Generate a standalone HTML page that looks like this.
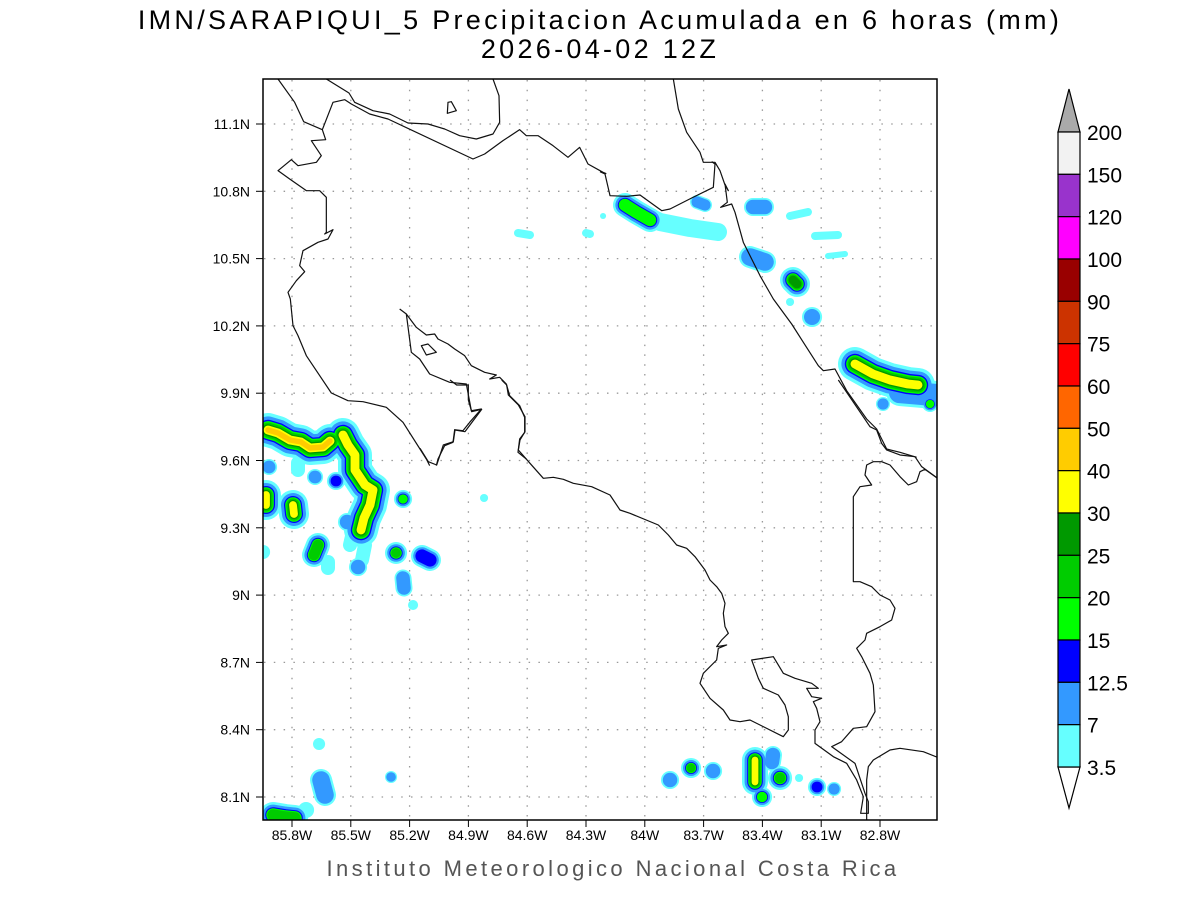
<!DOCTYPE html>
<html><head><meta charset="utf-8"><style>
body{margin:0;background:#fff;width:1200px;height:900px;overflow:hidden}
svg{display:block}
text{font-family:"Liberation Sans",sans-serif}
</style></head><body>
<svg id="s" width="1200" height="900" xmlns="http://www.w3.org/2000/svg">
<text x="600" y="29" font-size="27" text-anchor="middle" letter-spacing="3.3">IMN/SARAPIQUI_5 Precipitacion Acumulada en 6 horas (mm)</text>
<text x="600" y="58" font-size="27" text-anchor="middle" letter-spacing="3.3">2026-04-02 12Z</text>
<text x="613" y="876" font-size="22" text-anchor="middle" fill="#555" letter-spacing="3.4">Instituto Meteorologico Nacional Costa Rica</text>
<defs><clipPath id="c"><rect x="263" y="79" width="674" height="741"/></clipPath></defs>
<g id="grid" stroke="#999" stroke-width="1.3" stroke-dasharray="1.5,8.3"></g>
<g id="blobs" clip-path="url(#c)"></g>
<g clip-path="url(#c)" fill="none" stroke="#111" stroke-width="1.2" stroke-linejoin="round">
<g transform="translate(263,79) scale(0.33333)">
<polyline vector-effect="non-scaling-stroke" points="45,0 95,70 122,128 178,152 188,182 145,185 175,230 160,250 105,260 85,242 45,275 80,300 130,335 170,335 190,355 190,460 185,465 210,452 195,480 165,490 120,515 110,560 125,578 100,605 75,640 82,660 90,740 105,770 130,830 205,942 255,965 300,968 370,985 420,1030 490,1140 500,1160"/>
<polyline vector-effect="non-scaling-stroke" points="190,0 258,42 275,70 330,95 380,105 435,132 495,135 545,150 590,170 640,180 690,165 710,130 708,50 690,0"/>
<polyline vector-effect="non-scaling-stroke" points="178,152 210,70 245,62 265,75 320,105 375,120 630,240 665,225 720,185 770,152 790,170 825,170 870,200 915,235 950,205 975,255 1020,280 1030,284"/>
<polygon vector-effect="non-scaling-stroke" points="555,70 565,68 580,95 553,103"/>
<polygon vector-effect="non-scaling-stroke" points="475,800 495,795 520,820 490,828"/>
<polyline vector-effect="non-scaling-stroke" points="410,690 430,705 445,820 470,840 500,885 560,910 610,915 625,995 655,990 620,1030 600,1055 575,1052 570,1090 545,1100 525,1140 520,1160"/>
<polyline vector-effect="non-scaling-stroke" points="430,705 460,745 490,768 515,765 525,780 555,795 575,810 605,830 625,860 665,880 700,888 680,900 710,895 730,915 740,950 770,980 785,1015 785,1060 770,1080 765,1120 790,1140"/>
</g>
<g transform="translate(600,79) scale(0.33333)">
<polyline vector-effect="non-scaling-stroke" points="0,278 15,285 30,350 80,352 120,348 185,395 210,390 275,357 340,325 345,255 335,248"/>
<polyline vector-effect="non-scaling-stroke" points="220,0 235,90 260,160 300,220 310,250 345,250 360,275 375,318 385,335 375,315 382,370 362,385 395,375 405,400 430,490 480,590 520,660 575,735 610,790 655,860 670,875 705,870 740,935 800,1020 830,1050 860,1110 900,1120 950,1135"/>
</g>
<g transform="translate(420,380) scale(0.33333)">
<polyline vector-effect="non-scaling-stroke" points="0,205 25,245 50,255 70,195 100,185 105,150 135,155 185,88 155,95 145,60 145,15 110,15 90,0"/>
<polyline vector-effect="non-scaling-stroke" points="245,0 260,15 265,45 295,75 315,110 315,155 300,180 295,210 330,250 370,295 400,292 430,298 460,310 515,320 570,345 600,390 630,400 715,435 745,465 770,495 800,505 825,530 855,570 870,600 890,620 905,640 915,670 910,700 915,740 925,760 905,780 890,800 920,795 895,805 890,840 850,880 840,910 870,955 910,990 930,1020 960,1025 990,1020 1090,1070 1105,1050 1105,1010 1095,975 1075,945 1030,925 1015,895 995,840 1060,830 1090,880 1125,895 1175,910 1195,925 1160,925 1175,950 1205,955 1180,965 1190,985 1200,1025 1185,1050 1185,1090 1240,1130 1280,1150 1310,1200 1330,1250 1322,1300 1345,1300 1345,1265 1335,1240 1305,1150 1235,1100 1265,1085 1300,1045 1340,1040 1365,995 1360,915 1350,880 1325,830 1310,805 1335,780 1340,760 1380,740 1415,720 1425,685 1410,660 1380,645 1355,620 1320,605 1300,605 1300,350 1320,320 1355,315 1335,285 1340,255 1360,245 1385,245 1410,255 1440,290 1465,315 1490,305 1500,275 1515,268 1560,300"/>
<polyline vector-effect="non-scaling-stroke" points="1340,1320 1340,1200 1345,1160 1360,1140 1410,1110 1440,1105 1510,1115 1560,1135"/>
<polyline vector-effect="non-scaling-stroke" points="1255,0 1350,140 1370,150 1385,190 1400,210 1440,225 1485,230 1505,260 1560,300"/>
</g>
</g>
<rect x="263" y="79" width="674" height="741" fill="none" stroke="#000" stroke-width="1.5"/>
<g id="ticks" font-size="14"></g>
<g id="cb"></g>
</svg>
<script>
var NS="http://www.w3.org/2000/svg";
function el(p,t,a,txt){var e=document.createElementNS(NS,t);for(var k in a)e.setAttribute(k,a[k]);if(txt)e.textContent=txt;p.appendChild(e);return e;}
var g=document.getElementById('grid'),tk=document.getElementById('ticks');
var lons=['85.8W','85.5W','85.2W','84.9W','84.6W','84.3W','84W','83.7W','83.4W','83.1W','82.8W'];
lons.forEach(function(l,i){var x=292+i*58.8;el(g,'line',{x1:x,y1:80,x2:x,y2:819});el(tk,'line',{x1:x,y1:820,x2:x,y2:827,stroke:'#000'});el(tk,'text',{x:x,y:840,'text-anchor':'middle'},l);});
var lats=['11.1N','10.8N','10.5N','10.2N','9.9N','9.6N','9.3N','9N','8.7N','8.4N','8.1N'];
lats.forEach(function(l,i){var y=124+i*67.3;el(g,'line',{x1:264,y1:y,x2:936,y2:y});el(tk,'line',{x1:256,y1:y,x2:263,y2:y,stroke:'#000'});el(tk,'text',{x:250,y:y+5,'text-anchor':'end'},l);});
var cols=['#f2f2f2','#9933cc','#ff00ff','#990000','#cc3300','#ff0000','#ff6600','#ffcc00','#ffff00','#009900','#00cc00','#00ff00','#0000ff','#3399ff','#66ffff'];
var labs=['200','150','120','100','90','75','60','50','40','30','25','20','15','12.5','7','3.5'];
var cb=document.getElementById('cb'),h=(767-132)/15;
el(cb,'polygon',{points:'1058,132 1080,132 1069,89',fill:'#aaa',stroke:'#000','stroke-width':1.2});
el(cb,'polygon',{points:'1058,767 1080,767 1069,808',fill:'#fff',stroke:'#000','stroke-width':1.2});
cols.forEach(function(c,i){el(cb,'rect',{x:1058,y:132+i*h,width:22,height:h,fill:c,stroke:'#000','stroke-width':1.2});});
labs.forEach(function(l,i){el(cb,'text',{x:1087,y:132+i*h+8,'font-size':21},l);});
var lv=['#66ffff','#3399ff','#0000ff','#00ff00','#00cc00','#009900','#ffff00','#ffcc00','#ff6600'];
var fr=[1,0.8,0.6,0.52,0.44,0.34,0.26,0.16,0.08];
var B=[
[[[268,430],[278,433],[290,440],[301,442],[310,448],[323,447],[330,441]],34,8],
[[[343,435],[348,445],[355,455],[355,470],[365,485],[373,490],[370,505],[364,518],[361,530]],34,7],
[[[266,495],[266,505]],30,7],[[[293,505],[294,514]],30,7],
[[[318,545],[314,555]],24,5],[[[396,553]],22,5],[[[422,556],[430,560]],22,3],
[[[269,467]],16,2],[[[315,477]],16,2],[[[336,481]],18,3],[[[403,499]],18,4],[[[347,522]],18,2],
[[[358,567]],18,2],[[[403,578],[404,588]],17,2],[[[328,562],[328,568]],14,1],[[[413,605]],10,1],[[[263,552]],14,1],
[[[298,463],[298,470]],14,1],[[[353,532],[350,545]],14,1],[[[365,545],[362,560]],14,1],
[[[273,815],[285,817],[295,818]],26,5],[[[321,780],[325,795]],22,2],[[[319,744]],12,1],[[[391,777]],12,2],[[[306,810]],16,1],
[[[755,760],[755,782]],26,7],[[[780,778]],24,5],[[[762,797]],20,4],[[[691,768]],20,5],[[[670,780]],18,2],
[[[713,771]],18,2],[[[773,755],[772,762]],18,2],[[[817,787]],18,3],[[[834,789]],14,2],[[[799,778]],8,1],[[[484,498]],8,1],
[[[640,212],[660,222],[690,228],[718,232]],18,1],[[[625,205],[636,212],[650,220]],24,4],
[[[697,202],[705,205]],14,2],[[[753,207],[765,207]],18,2],[[[790,216],[808,212]],8,1],[[[815,236],[838,235]],8,1],
[[[828,256],[845,254]],6,1],[[[750,257],[765,262]],22,2],[[[793,280],[797,284]],26,6],[[[812,317]],20,2],
[[[790,302]],8,1],[[[603,216]],6,1],[[[518,233],[530,235]],8,1],[[[586,233],[590,234]],8,1],
[[[855,364],[873,374],[890,380],[908,384],[918,385]],34,7],[[[900,392],[935,395]],28,2],[[[930,404]],16,4],[[[883,404]],14,2]
];
var bl=document.getElementById('blobs');
for(var k=0;k<9;k++){B.forEach(function(b){if(k>=b[2])return;var w=b[1]*fr[k];if(w<2)w=2;var pts=b[0].map(function(p){return p.join(',')}).join(' ');if(b[0].length==1){pts+=' '+(b[0][0][0]+0.1)+','+b[0][0][1];}
el(bl,'polyline',{points:pts,fill:'none',stroke:lv[k],'stroke-width':w,'stroke-linecap':'round','stroke-linejoin':'round'});});}
</script>
</body></html>
